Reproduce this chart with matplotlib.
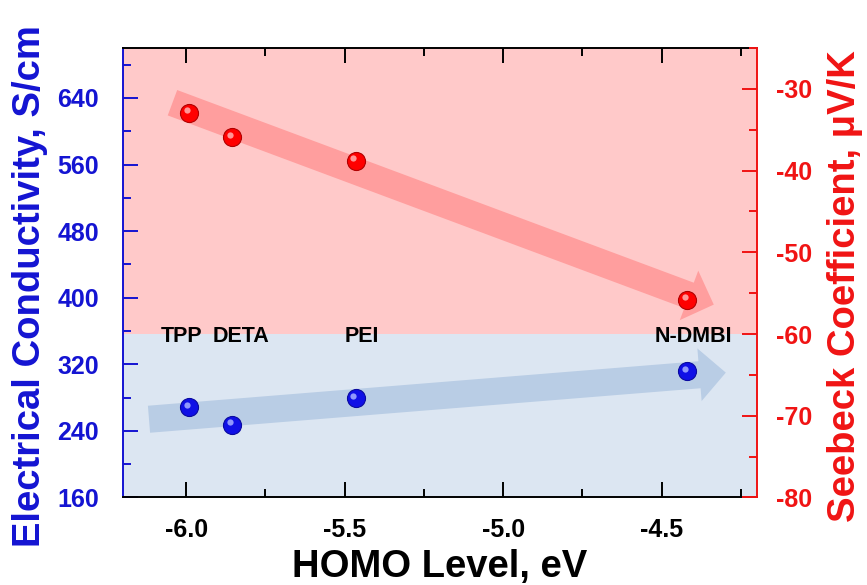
import numpy as np
import matplotlib
matplotlib.use("Agg")
import matplotlib.pyplot as plt
from matplotlib.patches import FancyArrowPatch, Rectangle
from matplotlib.ticker import MultipleLocator
from matplotlib.transforms import offset_copy

plt.rcParams['font.family'] = ['Liberation Sans', 'DejaVu Sans']
plt.rcParams['font.weight'] = 'bold'
plt.rcParams['axes.unicode_minus'] = False

# dopants and their HOMO levels
dopants = ["TPP", "DETA", "PEI", "N-DMBI"]
homo = [-5.99, -5.855, -5.465, -4.42]
conductivity = [268.5, 247.5, 279.5, 311.5]   # S/cm
seebeck = [-32.9, -35.9, -38.8, -55.8]        # uV/K

# label positions (HOMO, S/cm)
label_x = [-6.013, -5.827, -5.445, -4.40]
label_y = 353

# trend arrows: (tail, tip)
red_arrow = [(-6.043, -31.7), (-4.336, -56.4)]     # Seebeck axis
blue_arrow = [(-6.117, 254.0), (-4.298, 310.0)]    # conductivity axis

BLUE = "#1414D2"
RED = "#F01414"

fig = plt.figure(figsize=(8.67, 5.85), dpi=100)
ax = fig.add_axes([0.1415, 0.1496, 0.7315, 0.7684])
ax2 = ax.twinx()

ax.set_xlim(-6.2, -4.2)
ax.set_ylim(160, 700)
ax2.set_ylim(-80, -25)

# split background at Seebeck = -60
split = (-60 - (-80)) / 55.0
ax.add_patch(Rectangle((0, split), 1, 1 - split, transform=ax.transAxes,
                       facecolor="#FFC9C9", edgecolor="none", zorder=0))
ax.add_patch(Rectangle((0, 0), 1, split, transform=ax.transAxes,
                       facecolor="#DCE6F2", edgecolor="none", zorder=0))

arrow_style = "simple,head_length=19,head_width=38,tail_width=19.5"
ax2.add_patch(FancyArrowPatch(red_arrow[0], red_arrow[1], arrowstyle=arrow_style,
                              mutation_scale=1, shrinkA=0, shrinkB=0,
                              color="#FF9E9E", lw=0, zorder=1))
ax.add_patch(FancyArrowPatch(blue_arrow[0], blue_arrow[1], arrowstyle=arrow_style,
                             mutation_scale=1, shrinkA=0, shrinkB=0,
                             color="#B9CDE5", lw=0, zorder=1))

# glossy balls
ax.plot(homo, conductivity, "o", ms=13, color="#1010E6", mec="#0A0AA0", mew=0.8, zorder=3)
hl = offset_copy(ax.transData, fig=fig, x=-1.8, y=1.8, units="points")
ax.plot(homo, conductivity, "o", ms=4.5, color="#9FA8FF", mec="none", alpha=0.9,
        transform=hl, zorder=4)
ax2.plot(homo, seebeck, "o", ms=13, color="#FF0000", mec="#B00000", mew=0.8, zorder=3)
hl2 = offset_copy(ax2.transData, fig=fig, x=-1.8, y=1.8, units="points")
ax2.plot(homo, seebeck, "o", ms=4.5, color="#FFA8A8", mec="none", alpha=0.9,
         transform=hl2, zorder=4)

for name, lx in zip(dopants, label_x):
    ax.text(lx, label_y, name, ha="center", va="center", fontsize=15.5,
            fontweight="bold", color="black", zorder=5)

# axes styling
ax.xaxis.set_major_locator(MultipleLocator(0.5))
ax.xaxis.set_minor_locator(MultipleLocator(0.25))
ax.yaxis.set_major_locator(MultipleLocator(80))
ax.yaxis.set_minor_locator(MultipleLocator(40))
ax2.yaxis.set_major_locator(MultipleLocator(10))
ax2.yaxis.set_minor_locator(MultipleLocator(5))
ax.set_xticks([-6.0, -5.5, -5.0, -4.5])
ax.set_xticklabels(["-6.0", "-5.5", "-5.0", "-4.5"])

ax.tick_params(axis="x", which="both", direction="in", top=True, color="black",
               labelsize=18, pad=15, width=1.4)
ax.tick_params(axis="x", which="major", length=11)
ax.tick_params(axis="x", which="minor", length=6)
ax.tick_params(axis="y", which="both", direction="in", color=BLUE, labelcolor=BLUE,
               labelsize=18, pad=17, width=1.4)
ax.tick_params(axis="y", which="major", length=11)
ax.tick_params(axis="y", which="minor", length=6)
ax2.tick_params(axis="y", which="both", direction="in", color=RED, labelcolor=RED,
                labelsize=18, pad=14, width=1.4)
ax2.tick_params(axis="y", which="major", length=11)
ax2.tick_params(axis="y", which="minor", length=6)

for lbl in ax.get_xticklabels() + ax.get_yticklabels() + ax2.get_yticklabels():
    lbl.set_fontweight("bold")

for s in ["top", "bottom"]:
    ax.spines[s].set_color("black")
    ax.spines[s].set_linewidth(1.4)
ax.spines["left"].set_color(BLUE)
ax.spines["left"].set_linewidth(1.4)
ax.spines["right"].set_visible(False)
for s in ["top", "bottom", "left"]:
    ax2.spines[s].set_visible(False)
ax2.spines["right"].set_color(RED)
ax2.spines["right"].set_linewidth(1.4)

ax.set_xlabel("HOMO Level, eV", fontsize=27.5, fontweight="bold")
ax.set_ylabel("Electrical Conductivity, S/cm", fontsize=27.5, fontweight="bold",
              color=BLUE)
ax2.set_ylabel("Seebeck Coefficient, \u03bcV/K", fontsize=27.5, fontweight="bold",
               color=RED)
ax.xaxis.set_label_coords(0.5, -0.115)
ax.yaxis.set_label_coords(-0.117, 0.47)
ax2.yaxis.set_label_coords(1.110, 0.47)

fig.savefig("out.png", dpi=100)
